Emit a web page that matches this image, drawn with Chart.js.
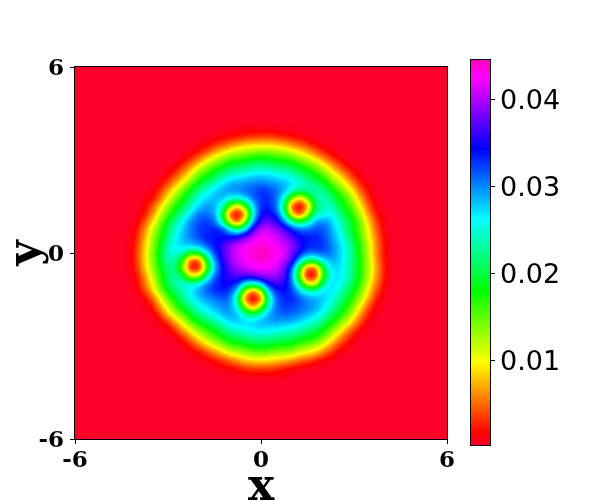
<!DOCTYPE html>
<html>
<head>
<meta charset="utf-8">
<style>html,body{margin:0;padding:0;background:#fff}canvas{display:block}</style>
<script src="https://cdn.jsdelivr.net/npm/chart.js@4"></script>
</head>
<body>
<canvas id="c" width="600" height="500"></canvas>
<script>
// tick labels
const xyTicks = [-6, 0, 6];
const barTicks = [0.01, 0.02, 0.03, 0.04];
// colour range of the bar
const barMin = 0.0002;
const barMax = 0.0446;
// cell spacing in axis units, and the value unit used in the rows below
const cellStep = 0.25;
const valueUnit = 0.0001;
// gist_rainbow stops: position, r, g, b
const colourStops = [[0,255,0,41],[0.03,255,0,0],[0.215,255,255,0],[0.4,0,255,0],[0.586,0,255,255],[0.77,0,0,255],[0.954,255,0,255],[1,255,0,191]];
// density; first row y=+4, last y=-4; columns x=-4.5..4.5
const densityRows = [
[0,0,0,0,0,0,0,0,0,0,0,0,0,0,2,3,5,6,6,6,5,4,3,1,0,0,0,0,0,0,0,0,0,0,0,0,0],
[0,0,0,0,0,0,0,0,0,0,0,2,5,10,16,22,28,32,33,35,30,24,18,12,6,2,0,0,0,0,0,0,0,0,0,0,0],
[0,0,0,0,0,0,0,0,0,1,5,12,26,38,52,68,80,85,85,88,82,72,58,45,32,14,7,3,0,0,0,0,0,0,0,0,0],
[0,0,0,0,0,0,0,0,2,10,22,42,68,90,108,124,130,140,140,142,136,128,112,95,76,50,28,12,4,1,0,0,0,0,0,0,0],
[0,0,0,0,0,0,0,2,12,30,58,90,118,140,160,170,180,190,190,190,182,172,162,145,125,100,70,40,20,6,1,0,0,0,0,0,0],
[0,0,0,0,0,0,3,14,38,72,108,140,165,185,205,215,225,235,235,235,228,220,207,190,172,150,118,85,50,24,7,2,0,0,0,0,0],
[0,0,0,0,0,2,14,38,72,112,150,180,205,228,248,262,270,277,277,278,271,264,248,231,209,186,160,123,96,55,24,7,1,0,0,0,0],
[0,0,0,0,2,12,36,72,110,150,187,217,244,268,285,295,303,305,307,303,300,286,273,254,240,222,195,163,128,96,50,20,5,0,0,0,0],
[0,0,0,1,9,30,68,110,150,190,222,252,277,289,297,302,315,319,327,326,313,291,246,224,231,238,222,195,163,128,85,40,12,2,0,0,0],
[0,0,0,3,18,52,98,145,182,222,254,279,291,288,258,252,278,313,331,336,317,253,137,75,141,225,250,227,190,160,112,65,24,5,0,0,0],
[0,0,1,12,42,88,135,176,212,250,279,302,296,251,141,81,163,277,336,345,318,213,34,3,57,210,236,252,214,177,140,90,40,9,1,0,0],
[0,0,4,22,60,113,158,202,240,279,308,312,303,208,36,4,67,258,343,359,334,247,83,27,119,239,254,267,236,195,160,112,60,20,3,0,0],
[0,0,10,42,88,140,190,232,270,305,315,327,314,239,92,32,142,297,366,383,364,310,237,197,237,293,298,284,252,214,177,135,78,32,6,0,0],
[0,2,20,60,113,163,207,252,287,309,327,336,345,336,275,222,284,373,407,415,400,378,338,319,321,324,320,298,267,227,181,145,90,40,8,0,0],
[0,4,27,72,130,172,222,268,291,312,325,345,350,349,348,365,395,420,435,433,425,405,374,353,346,345,328,305,278,240,195,150,100,50,12,1,0],
[0,5,30,80,135,185,238,271,285,286,298,324,345,367,392,417,433,438,442,438,433,417,392,363,345,338,331,310,287,252,209,163,112,55,14,2,0],
[0,6,34,85,140,192,243,259,235,187,193,264,326,361,392,420,435,442,445,442,435,420,384,347,315,316,316,306,287,252,209,163,112,55,14,2,0],
[0,6,34,85,140,192,238,236,159,33,34,179,299,356,392,417,433,438,442,438,433,413,365,283,218,215,266,293,286,256,214,168,118,60,17,2,0],
[0,5,30,80,135,180,224,225,126,16,17,145,290,349,378,405,425,429,432,433,425,393,321,187,35,41,173,276,280,256,214,168,123,65,20,3,0],
[0,2,20,62,118,170,212,238,198,114,121,230,313,348,365,376,377,382,391,403,405,376,303,149,10,17,156,264,278,252,209,168,118,60,17,2,0],
[0,1,14,52,100,155,205,237,256,246,258,306,333,347,343,329,265,242,274,351,367,358,311,215,103,102,216,273,269,236,200,155,100,50,12,1,0],
[0,0,7,34,80,135,180,218,244,273,295,318,338,342,324,268,108,36,110,277,338,348,328,289,256,253,273,276,253,218,181,140,85,35,7,0,0],
[0,0,2,10,42,98,148,190,231,260,281,300,312,323,310,227,41,1,42,232,322,339,338,323,310,296,283,267,236,200,160,118,65,20,4,0,0],
[0,0,0,3,20,66,113,158,195,227,256,274,292,305,300,253,140,60,142,259,318,332,326,318,310,295,274,244,214,177,135,85,35,8,0,0,0],
[0,0,0,0,6,30,80,118,155,190,218,244,264,284,289,285,243,224,249,294,310,314,307,300,289,274,248,218,186,150,107,55,20,4,0,0,0],
[0,0,0,0,2,12,28,72,112,155,181,204,231,252,274,278,280,280,288,292,298,289,284,274,264,244,218,186,150,118,70,32,8,0,0,0,0],
[0,0,0,0,0,1,8,32,70,107,140,168,190,214,236,252,264,271,271,271,267,260,248,240,227,209,181,150,118,70,35,9,2,0,0,0,0],
[0,0,0,0,0,0,2,8,28,60,96,128,155,172,195,209,222,231,231,231,222,218,209,195,186,172,145,112,70,35,12,2,0,0,0,0,0],
[0,0,0,0,0,0,0,2,8,24,50,78,107,128,155,163,177,186,186,186,177,172,168,150,140,123,100,65,35,12,3,0,0,0,0,0,0],
[0,0,0,0,0,0,0,0,2,6,14,32,55,78,100,118,128,140,140,140,128,128,118,100,90,78,50,28,9,2,0,0,0,0,0,0,0],
[0,0,0,0,0,0,0,0,0,0,3,7,17,28,45,60,78,85,85,85,78,70,60,45,35,20,9,4,0,0,0,0,0,0,0,0,0],
[0,0,0,0,0,0,0,0,0,0,0,0,3,7,10,17,28,32,32,32,28,17,10,6,2,1,0,0,0,0,0,0,0,0,0,0,0],
[0,0,0,0,0,0,0,0,0,0,0,0,0,1,2,4,5,6,6,6,5,4,2,1,0,0,0,0,0,0,0,0,0,0,0,0,0]
];

function normalised(value) {
  return Math.min(1, Math.max(0, (value - barMin) / (barMax - barMin)));
}
function colourAt(t) {
  for (let k = 1; k < colourStops.length; k++) {
    const a = colourStops[k - 1], b = colourStops[k];
    if (t <= b[0]) {
      const f = (t - a[0]) / (b[0] - a[0]);
      return [1, 2, 3].map(n => Math.round(a[n] + (b[n] - a[n]) * f));
    }
  }
  return [255, 0, 191];
}
// cells are painted as grey levels, smoothed, then coloured by value
function greyFor(value) {
  const g = Math.round(normalised(value) * 255);
  return `rgb(${g},${g},${g})`;
}

const cells = [];
densityRows.forEach((row, r) => row.forEach((v, c) => {
  cells.push({ x: (c - 18) * cellStep, y: (16 - r) * cellStep, v: v * valueUnit });
}));

const serifBold = 'DejaVu Serif';
const heatPlugin = {
  id: 'heat',
  afterLayout(chart) {
    const s = chart.scales.bar;
    s.left = 490; s.right = 600; s.top = 60; s.bottom = 445;
    s.width = 110; s.height = 385;
    s.configure();
  },
  beforeDatasetsDraw(chart) {
    const a = chart.chartArea, ctx = chart.ctx;
    ctx.save();
    ctx.fillStyle = '#000';
    ctx.fillRect(a.left, a.top, a.width, a.height);
    ctx.restore();
  },
  afterDatasetsDraw(chart) {
    const a = chart.chartArea, ctx = chart.ctx;
    const off = document.createElement('canvas');
    off.width = a.width; off.height = a.height;
    off.getContext('2d').drawImage(chart.canvas, a.left, a.top, a.width, a.height, 0, 0, a.width, a.height);
    ctx.save();
    ctx.beginPath(); ctx.rect(a.left, a.top, a.width, a.height); ctx.clip();
    ctx.filter = 'blur(3px)';
    ctx.drawImage(off, a.left, a.top);
    ctx.restore();
    const img = ctx.getImageData(a.left, a.top, a.width, a.height);
    for (let p = 0; p < img.data.length; p += 4) {
      const rgb = colourAt(img.data[p] / 255);
      img.data[p] = rgb[0]; img.data[p + 1] = rgb[1]; img.data[p + 2] = rgb[2]; img.data[p + 3] = 255;
    }
    ctx.putImageData(img, a.left, a.top);
    ctx.save();
    ctx.strokeStyle = '#000'; ctx.lineWidth = 1;
    ctx.strokeRect(a.left - 0.5, a.top - 0.5, a.width + 1, a.height + 1);
    const s = chart.scales.bar;
    for (let y = s.top; y < s.bottom; y++) {
      const rgb = colourAt(normalised(s.getValueForPixel(y + 0.5)));
      ctx.fillStyle = `rgb(${rgb[0]},${rgb[1]},${rgb[2]})`;
      ctx.fillRect(471, y, 19, 1);
    }
    ctx.strokeRect(470.5, s.top - 0.5, 20, s.bottom - s.top + 1);
    ctx.restore();
  }
};

new Chart(document.getElementById('c'), {
  type: 'scatter',
  data: { datasets: [{
    data: cells,
    pointStyle: 'rect',
    pointRadius: 5.7,
    pointHoverRadius: 5.7,
    borderWidth: 0,
    pointBorderWidth: 0,
    backgroundColor: c => greyFor(c.raw ? c.raw.v : 0)
  }] },
  plugins: [heatPlugin],
  options: {
    responsive: false,
    animation: false,
    events: [],
    layout: { padding: { left: 0, top: 67, right: 153, bottom: 0 } },
    plugins: { legend: { display: false }, tooltip: { enabled: false } },
    scales: {
      x: {
        type: 'linear', min: -6, max: 6,
        afterBuildTicks: s => { s.ticks = xyTicks.map(v => ({ value: v })); },
        afterFit: s => { s.height = 61; },
        grid: { drawOnChartArea: false, tickLength: 5, color: '#000' },
        border: { color: '#000' },
        ticks: { color: '#000', maxRotation: 0, autoSkip: false, padding: 3, font: { family: serifBold, weight: 'bold', size: 23 }, callback: v => String(v) },
        title: { display: true, text: 'x', color: '#000', font: { family: serifBold, weight: 'bold', size: 44, lineHeight: 1 }, padding: { top: 0, bottom: -11 } }
      },
      y: {
        type: 'linear', min: -6, max: 6,
        afterBuildTicks: s => { s.ticks = xyTicks.map(v => ({ value: v })); },
        afterFit: s => { s.width = 75; },
        grid: { drawOnChartArea: false, tickLength: 5, color: '#000' },
        border: { color: '#000' },
        ticks: { color: '#000', autoSkip: false, padding: 6, labelOffset: 2.5, font: { family: serifBold, weight: 'bold', size: 23 }, callback: v => String(v) },
        title: { display: true, text: 'y', color: '#000', font: { family: serifBold, weight: 'bold', size: 44, lineHeight: 1 }, padding: { top: 6, bottom: 0 } }
      },
      bar: {
        type: 'linear', position: 'right', min: barMin, max: barMax,
        afterBuildTicks: s => { s.ticks = barTicks.map(v => ({ value: v })); },
        afterFit: s => { s.width = 0; },
        grid: { drawOnChartArea: false, tickLength: 5, color: '#000' },
        border: { display: false },
        ticks: { color: '#000', autoSkip: false, padding: 5, labelOffset: 2.5, font: { family: 'DejaVu Sans', size: 27 }, callback: v => v.toFixed(2) }
      }
    }
  }
});
</script>
</body>
</html>
